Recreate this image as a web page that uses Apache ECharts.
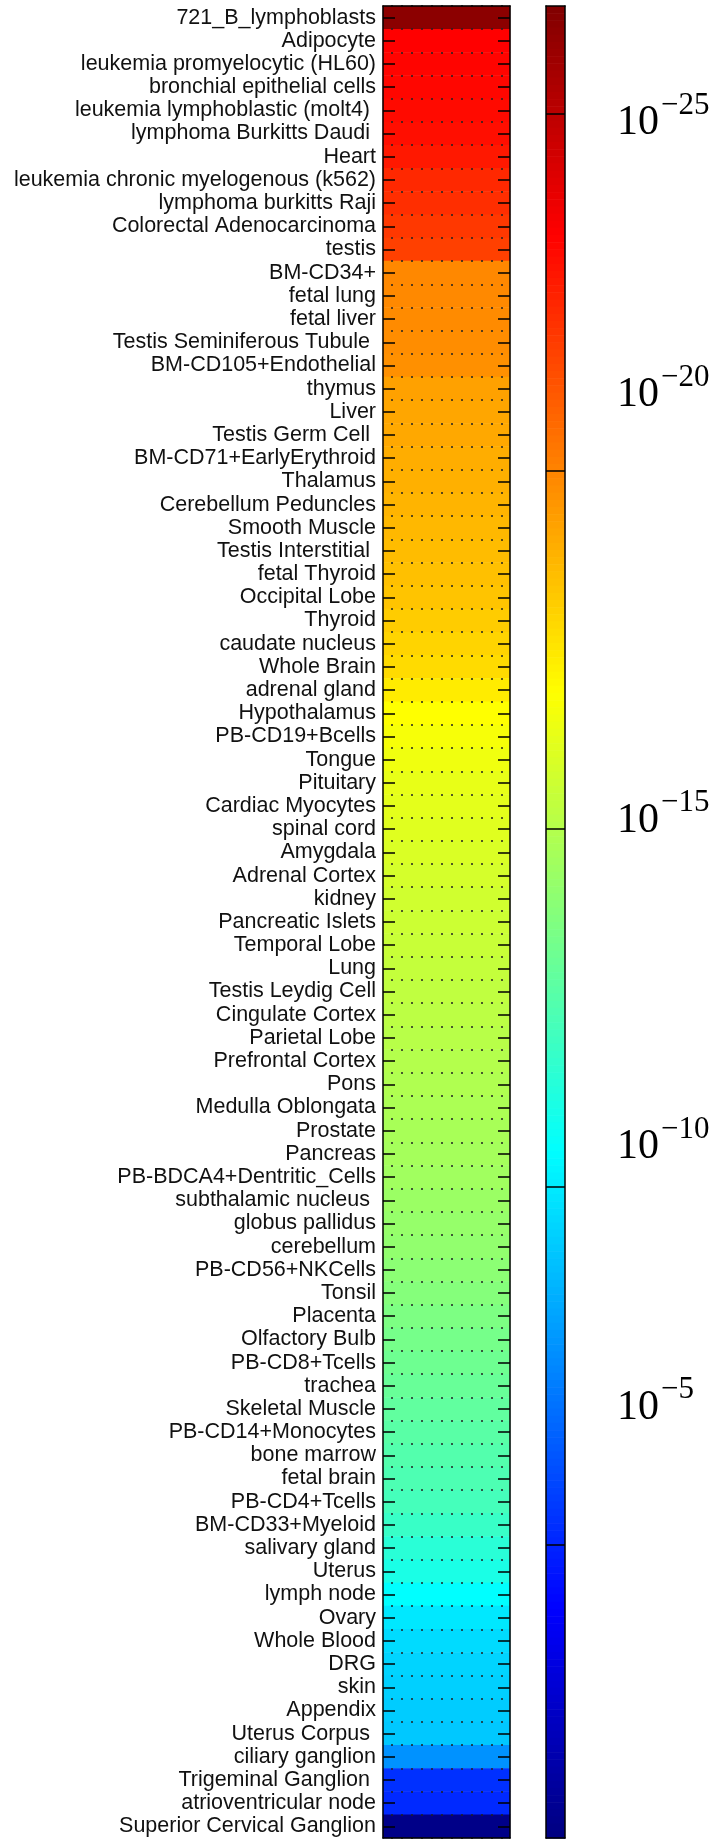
<!DOCTYPE html>
<html><head><meta charset="utf-8">
<script src="https://cdn.jsdelivr.net/npm/echarts@6/dist/echarts.min.js"></script>
<style>html,body{margin:0;padding:0;background:#fff}#c{width:719px;height:1840px}</style>
</head><body><div id="c"></div>
<script>
// ---- data ----
const tissues = [
  '721_B_lymphoblasts','Adipocyte','leukemia promyelocytic (HL60)','bronchial epithelial cells',
  'leukemia lymphoblastic (molt4) ','lymphoma Burkitts Daudi ','Heart','leukemia chronic myelogenous (k562)',
  'lymphoma burkitts Raji','Colorectal Adenocarcinoma','testis','BM-CD34+','fetal lung','fetal liver',
  'Testis Seminiferous Tubule ','BM-CD105+Endothelial','thymus','Liver','Testis Germ Cell ',
  'BM-CD71+EarlyErythroid','Thalamus','Cerebellum Peduncles','Smooth Muscle','Testis Interstitial ',
  'fetal Thyroid','Occipital Lobe','Thyroid','caudate nucleus','Whole Brain','adrenal gland',
  'Hypothalamus','PB-CD19+Bcells','Tongue','Pituitary','Cardiac Myocytes','spinal cord','Amygdala',
  'Adrenal Cortex','kidney','Pancreatic Islets','Temporal Lobe','Lung','Testis Leydig Cell',
  'Cingulate Cortex','Parietal Lobe','Prefrontal Cortex','Pons','Medulla Oblongata','Prostate',
  'Pancreas','PB-BDCA4+Dentritic_Cells','subthalamic nucleus ','globus pallidus','cerebellum',
  'PB-CD56+NKCells','Tonsil','Placenta','Olfactory Bulb','PB-CD8+Tcells','trachea','Skeletal Muscle',
  'PB-CD14+Monocytes','bone marrow','fetal brain','PB-CD4+Tcells','BM-CD33+Myeloid','salivary gland',
  'Uterus','lymph node','Ovary','Whole Blood','DRG','skin','Appendix','Uterus Corpus ',
  'ciliary ganglion','Trigeminal Ganglion ','atrioventricular node','Superior Cervical Ganglion'
];
// log10 of the value for each tissue
const log10Values = [
  -26.2, -23.3, -23.2, -23.15, -23.05, -22.95, -22.7, -22.3, -22.15, -21.9,
  -21.7, -19.9, -19.87, -19.82, -19.77, -19.69, -19.28, -19.15, -19.08, -18.97,
  -18.88, -18.78, -18.69, -18.58, -18.49, -18.38, -18.18, -17.98, -17.8, -17.39,
  -16.9, -16.71, -16.52, -16.32, -16.23, -16.13, -15.98, -15.83, -15.72, -15.62,
  -15.52, -15.42, -15.3, -15.21, -15.11, -15.01, -14.9, -14.8, -14.72, -14.62,
  -14.52, -14.39, -14.26, -14.16, -14.0, -13.83, -13.62, -13.44, -13.26, -13.09,
  -12.93, -12.73, -12.57, -12.42, -12.22, -11.9, -11.52, -11.14, -10.5, -9.92,
  -9.6, -9.41, -9.32, -9.22, -9.12, -7.76, -5.3, -5.12, -1.1
];
const colorbarMin = -26.5;
const colorbarMax = -0.9;
const tickExponents = [-25, -20, -15, -10, -5];
// where the colour-bar labels sit in the original figure (layout, in axis units)
const labelPlacement = [-24.95, -21.15, -15.2, -10.64, -7.0];

// ---- style ----
const jet = ['#800000','#ff0000','#ff8000','#ffff00','#80ff80','#00ffff','#0080ff','#0000ff','#000080'];
const bands = [];
for (let v = colorbarMin; v < colorbarMax; v += 0.1) bands.push([0, v + 0.05, v + 0.05]);

const chart = echarts.init(document.getElementById('c'), null, {renderer: 'canvas'});
const black = '#000';
const frameLine = {show: true, lineStyle: {color: black, width: 1.5}};
const hidden = {show: false};

chart.setOption({
  backgroundColor: '#fff',
  animation: false,
  grid: [
    {left: 383, top: 6, width: 127, height: 1832},
    {left: 546, top: 6, width: 19, height: 1832}
  ],
  xAxis: [
    {gridIndex: 0, type: 'category', data: [''], position: 'bottom', z: 5, axisLine: frameLine, axisTick: hidden, axisLabel: hidden},
    {gridIndex: 0, type: 'category', data: [''], position: 'top', z: 5, axisLine: frameLine, axisTick: hidden, axisLabel: hidden},
    {gridIndex: 1, type: 'category', data: [''], position: 'bottom', z: 5, axisLine: frameLine, axisTick: hidden, axisLabel: hidden},
    {gridIndex: 1, type: 'category', data: [''], position: 'top', z: 5, axisLine: frameLine, axisTick: hidden, axisLabel: hidden}
  ],
  yAxis: [
    {gridIndex: 0, type: 'category', data: tissues, inverse: true, position: 'left', z: 5,
     axisLine: frameLine,
     axisTick: {show: true, inside: true, length: 12, alignWithLabel: true, interval: 0, lineStyle: {color: black, width: 1.5}},
     axisLabel: {show: true, interval: 0, margin: 7, color: '#111', fontFamily: 'Liberation Sans, Arial, sans-serif', fontSize: 21.5},
     splitLine: {show: true, interval: 0, lineStyle: {color: '#222', width: 1.6, type: [2, 8], dashOffset: -8}}},
    {gridIndex: 0, type: 'category', data: tissues, inverse: true, position: 'right', z: 5,
     axisLine: frameLine,
     axisTick: {show: true, inside: true, length: 12, alignWithLabel: true, interval: 0, lineStyle: {color: black, width: 1.5}},
     axisLabel: hidden, splitLine: hidden},
    {gridIndex: 1, type: 'value', min: colorbarMin, max: colorbarMax, inverse: true, position: 'left', z: 5,
     axisLine: frameLine, axisTick: hidden, axisLabel: hidden, splitLine: hidden},
    {gridIndex: 1, type: 'value', min: colorbarMin, max: colorbarMax, inverse: true, position: 'right', z: 5,
     axisLine: frameLine,
     axisTick: {show: true, inside: true, length: 19, customValues: tickExponents, lineStyle: {color: black, width: 1.5}},
     axisLabel: hidden, splitLine: hidden},
    {gridIndex: 1, type: 'value', min: colorbarMin, max: colorbarMax, inverse: true, position: 'right', z: 5,
     axisLine: hidden, axisTick: hidden, splitLine: hidden,
     axisLabel: {show: true, margin: 52, customValues: labelPlacement,
       formatter: function (value) {
         let k = 0, best = 1e9;
         labelPlacement.forEach((p, i) => { const d = Math.abs(p - value); if (d < best) { best = d; k = i; } });
         return '{b|10}{s|\u2212' + Math.abs(tickExponents[k]) + '}';
       },
       rich: {
         b: {fontFamily: 'Liberation Serif, serif', fontSize: 42, color: '#000', lineHeight: 54, verticalAlign: 'bottom'},
         s: {fontFamily: 'Liberation Serif, serif', fontSize: 31, color: '#000', lineHeight: 30, verticalAlign: 'top', padding: [0, 0, 0, 2]}
       }}}
  ],
  visualMap: {
    type: 'continuous', show: false, min: colorbarMin, max: colorbarMax, dimension: 2,
    seriesIndex: [0, 1], inRange: {color: jet}
  },
  series: [
    {type: 'heatmap', xAxisIndex: 0, yAxisIndex: 0, z: 2,
     data: tissues.map((t, i) => [0, i, log10Values[i]]),
     itemStyle: {borderWidth: 0}, emphasis: {disabled: true}},
    {type: 'custom', xAxisIndex: 2, yAxisIndex: 2, z: 2, encode: {x: 0, y: 1},
     data: bands,
     renderItem: function (params, api) {
       const v = api.value(1);
       const p0 = api.coord([0, v - 0.05]);
       const p1 = api.coord([0, v + 0.05]);
       const cs = params.coordSys;
       return {type: 'rect',
         shape: {x: cs.x, y: Math.min(p0[1], p1[1]), width: cs.width, height: Math.abs(p1[1] - p0[1]) + 0.6},
         style: {fill: api.visual('color')}};
     }}
  ]
});
</script></body></html>
